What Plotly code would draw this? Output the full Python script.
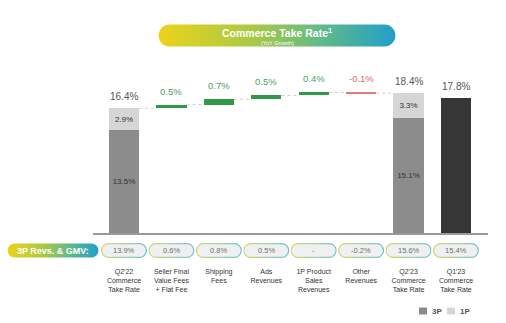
import base64
import plotly.graph_objects as go

# ---- data -------------------------------------------------------------
categories = [
    "Q2'22<br>Commerce<br>Take Rate",
    "Seller Final<br>Value Fees<br>+ Flat Fee",
    "Shipping<br>Fees",
    "Ads<br>Revenues",
    "1P Product<br>Sales<br>Revenues",
    "Other<br>Revenues",
    "Q2'23<br>Commerce<br>Take Rate",
    "Q1'23<br>Commerce<br>Take Rate",
]
start_3p = 13.5          # Q2'22 3P take rate
start_1p = 2.9           # Q2'22 1P take rate
bridge_steps = [0.5, 0.7, 0.5, 0.4, -0.1]   # YoY drivers
end_3p = 15.1            # Q2'23 3P take rate
end_1p = 3.3             # Q2'23 1P take rate
prior_q_total = 17.8     # Q1'23 commerce take rate
revs_gmv = ["13.9%", "0.6%", "0.8%", "0.5%", "-", "-0.2%", "15.6%", "15.4%"]
legend_items = [("3P", "#8c8c8c"), ("1P", "#d6d6d6")]

# ---- geometry helpers (figure pixels -> paper coords) -------------------
W, H = 506, 323
ML, MR, MT, MB = 93, 18, 60, 90
PW, PH = W - ML - MR, H - MT - MB
X_RANGE = [-0.654, 7.675]
Y_MAX = 22.76


def px_x(px):
    return (px - ML) / PW


def px_y(py):
    return (H - MB - py) / PH


def pill_uri(w, h, fill=None, stroke=None, sw=1.2):
    """Rounded pill as an SVG data URI, with optional gradient fill/stroke."""
    grad_fill = (
        '<linearGradient id="gf" x1="0" y1="0" x2="1" y2="0">'
        '<stop offset="0" stop-color="#ecd31b"/>'
        '<stop offset="0.4" stop-color="#a8c945"/>'
        '<stop offset="0.7" stop-color="#5db98b"/>'
        '<stop offset="1" stop-color="#229fc9"/></linearGradient>'
    )
    grad_stroke = (
        '<linearGradient id="gs" x1="0" y1="0" x2="1" y2="0">'
        '<stop offset="0" stop-color="#d3d766"/>'
        '<stop offset="0.5" stop-color="#a9d3a2"/>'
        '<stop offset="1" stop-color="#6cbfcf"/></linearGradient>'
    )
    f = "url(#gf)" if fill == "grad" else (fill or "none")
    s = "url(#gs)" if stroke == "grad" else (stroke or "none")
    r = h / 2 - sw / 2
    svg = (
        f'<svg xmlns="http://www.w3.org/2000/svg" width="{w}" height="{h}" '
        f'viewBox="0 0 {w} {h}" preserveAspectRatio="none"><defs>{grad_fill}{grad_stroke}</defs>'
        f'<rect x="{sw/2}" y="{sw/2}" width="{w-sw}" height="{h-sw}" rx="{r}" ry="{r}" '
        f'fill="{f}" stroke="{s}" stroke-width="{sw if stroke else 0}"/></svg>'
    )
    return "data:image/svg+xml;base64," + base64.b64encode(svg.encode()).decode()


def pill_image(uri, left, top, w, h):
    return dict(source=uri, xref="paper", yref="paper", x=px_x(left), y=px_y(top),
                sizex=w / PW, sizey=h / PH, xanchor="left", yanchor="top",
                sizing="stretch", layer="below")


def note(text, x, y, size, color, xref="paper", xanchor="center", **kw):
    return dict(text=text, x=x, y=y, xref=xref, yref="paper", showarrow=False,
                xanchor=xanchor, yanchor="middle",
                font=dict(size=size, color=color, family="Arial"), **kw)


# ---- derived bridge values -------------------------------------------
x_pos = list(range(len(categories)))
start_total = start_3p + start_1p
end_total = end_3p + end_1p
levels = [start_total]
for d in bridge_steps:
    levels.append(levels[-1] + d)
step_base = levels[:-1]
step_x = x_pos[1:1 + len(bridge_steps)]
step_colors = ["#2f9a47" if d >= 0 else "#e5787a" for d in bridge_steps]
BAR_W = 0.64
pct = lambda v: f"{v:.1f}%"
seg_font = dict(size=8, color="#333333", family="Arial")

fig = go.Figure()
fig.add_trace(go.Bar(
    name="3P", x=[0, 6], y=[start_3p, end_3p], base=[0, 0], width=BAR_W,
    marker=dict(color=legend_items[0][1], line=dict(width=0)),
    text=[pct(start_3p), pct(end_3p)], textposition="inside", insidetextanchor="middle",
    textangle=0, textfont=seg_font, hoverinfo="skip",
))
fig.add_trace(go.Bar(
    name="1P", x=[0, 6], y=[start_1p, end_1p], base=[start_3p, end_3p], width=BAR_W,
    marker=dict(color=legend_items[1][1], line=dict(width=0)),
    text=[pct(start_1p), pct(end_1p)], textposition="inside", insidetextanchor="middle",
    textangle=0, textfont=seg_font, hoverinfo="skip",
))
fig.add_trace(go.Bar(
    x=step_x, y=bridge_steps, base=step_base, width=BAR_W,
    marker=dict(color=step_colors, line=dict(width=0)), hoverinfo="skip",
))
fig.add_trace(go.Bar(
    x=[7], y=[prior_q_total], base=[0], width=BAR_W,
    marker=dict(color="#363636", line=dict(width=0)), hoverinfo="skip",
))

shapes = []
annotations = []

# dashed connectors between consecutive bridge levels
for i, lvl in enumerate(levels):
    shapes.append(dict(type="line", xref="x", yref="y", x0=i + BAR_W / 2, x1=i + 1 - BAR_W / 2,
                       y0=lvl, y1=lvl, line=dict(color="#cfcfcf", width=1, dash="dot"), layer="below"))

# value labels above the bridge
for xi, total in [(0, start_total), (6, end_total), (7, prior_q_total)]:
    annotations.append(dict(x=xi, y=total, xref="x", yref="y", text=pct(total), showarrow=False,
                            xanchor="center", yanchor="bottom", yshift=4,
                            font=dict(size=10, color="#555555", family="Arial")))
for xi, b, d in zip(step_x, step_base, bridge_steps):
    col = "#4f9d62" if d >= 0 else "#e0696b"
    annotations.append(dict(x=xi, y=max(b, b + d), xref="x", yref="y", text=pct(d), showarrow=False,
                            xanchor="center", yanchor="bottom", yshift=6,
                            font=dict(size=9.5, color=col, family="Arial")))

# title pill
images = [pill_image(pill_uri(238, 23, fill="grad"), 158, 24, 238, 23)]
annotations.append(note("<b>Commerce Take Rate<sup>1</sup></b>", px_x(277), px_y(33), 10.5, "white"))
annotations.append(note("(YoY Growth)", px_x(277), px_y(42.5), 5.5, "white"))

# 3P revenue & GMV row
images.append(pill_image(pill_uri(92, 15, fill="grad"), 7, 243, 92, 15))
annotations.append(note("<b>3P Revs. & GMV:</b>", px_x(53), px_y(250.5), 9, "white"))
for xi, lab in zip(x_pos, revs_gmv):
    cx = ML + (xi - X_RANGE[0]) / (X_RANGE[1] - X_RANGE[0]) * PW
    images.append(pill_image(pill_uri(46, 15, fill="#eef0f1", stroke="grad"), cx - 23, 243, 46, 15))
    annotations.append(note(lab, xi, px_y(250.5), 7.5, "#707070", xref="x"))

# legend swatches
for (name, color), sx in zip(legend_items, [419, 447]):
    shapes.append(dict(type="rect", xref="paper", yref="paper", x0=px_x(sx), x1=px_x(sx + 8),
                       y0=px_y(314.5), y1=px_y(307.5), fillcolor=color, line=dict(width=0)))
    annotations.append(note(f"<b>{name}</b>", px_x(sx + 10.5), px_y(311), 8, "#555555", xanchor="left"))

fig.update_layout(
    width=W, height=H, margin=dict(l=ML, r=MR, t=MT, b=MB, autoexpand=False),
    paper_bgcolor="white", plot_bgcolor="white",
    barmode="overlay", bargap=0, showlegend=False,
    shapes=shapes, annotations=annotations, images=images,
    xaxis=dict(range=X_RANGE, tickvals=x_pos, ticktext=categories, showgrid=False, automargin=False,
               zeroline=False, showline=True, linecolor="#9a9a9a", linewidth=1.5, ticks="",
               ticklabelstandoff=31, tickfont=dict(size=7, color="#333333", family="Arial")),
    yaxis=dict(range=[0, Y_MAX], visible=False, showgrid=False, zeroline=False, automargin=False),
)

fig.write_html("out.html")
